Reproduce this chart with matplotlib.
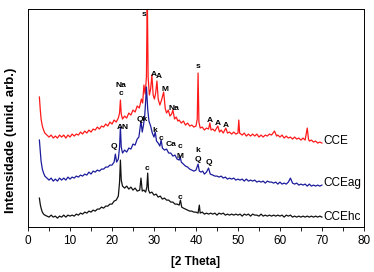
"""
XRD patterns of CCE, CCEag and CCEhc (stacked, arbitrary intensity units).
"""

import matplotlib
matplotlib.use("Agg")
import matplotlib.pyplot as plt
from matplotlib.ticker import MultipleLocator

plt.rcParams["font.family"] = ["Liberation Sans", "DejaVu Sans"]

# =============================================================================
# DATA  (2 theta in degrees, intensity already offset for stacking)
# =============================================================================

cce_x = [2.7, 2.9, 3.1, 3.4, 3.7, 4.0, 4.5, 5.0, 5.5, 6.0, 6.5, 7.0, 7.5, 8.0,
         8.5, 9.0, 9.5, 10.0, 10.5, 11.0, 11.5, 12.0, 12.5, 13.0, 13.5, 14.0,
         14.5, 15.0, 15.5, 16.0, 16.5, 17.0, 17.5, 18.0, 18.5, 19.0, 19.5,
         20.0, 20.5, 21.0, 21.5, 21.8, 22.0, 22.2, 22.5, 23.0, 23.5, 24.0,
         24.5, 25.0, 25.5, 26.0, 26.5, 27.0, 27.3, 27.6, 27.9, 28.2, 28.4,
         28.6, 28.9, 29.2, 29.5, 29.8, 30.1, 30.4, 30.7, 31.0, 31.4, 31.8,
         32.3, 32.7, 33.0, 33.4, 33.8, 34.2, 34.5, 34.9, 35.3, 35.7, 36.0,
         36.5, 37.0, 37.5, 38.0, 38.5, 39.0, 39.5, 40.0, 40.3, 40.5, 40.7,
         41.0, 41.5, 42.0, 42.5, 43.0, 43.3, 43.6, 44.0, 44.5, 45.2, 45.6,
         46.0, 46.5, 47.1, 47.5, 48.0, 48.5, 49.0, 49.5, 50.0, 50.2, 50.4,
         51.0, 51.5, 52.0, 52.5, 53.0, 53.5, 54.0, 54.5, 55.0, 55.5, 56.0,
         56.5, 57.0, 57.5, 58.0, 58.7, 59.2, 59.5, 60.0, 60.5, 61.0, 61.5,
         62.0, 62.5, 63.0, 63.5, 64.0, 64.5, 65.0, 65.5, 66.0, 66.5, 66.8,
         67.0, 67.5, 68.0, 68.5, 69.0, 69.5, 70.0]
cce_y = [130, 118, 108, 101, 97, 94, 92, 90, 92, 89, 91, 89, 92, 90,
         92, 89, 92, 90, 93, 91, 93, 92, 95, 93, 96, 94,
         97, 95, 98, 97, 100, 98, 101, 100, 103, 101, 105,
         103, 107, 105, 109, 114, 127, 113, 108, 111, 109, 114,
         112, 117, 115, 121, 119, 128, 124, 142, 133, 150, 235,
         150, 132, 138, 152, 132, 128, 134, 146, 128, 122, 127,
         135, 118, 114, 117, 111, 113, 117, 108, 110, 106, 107,
         104, 106, 102, 104, 101, 102, 100, 101, 108, 154, 105,
         99, 100, 97, 99, 98, 104, 97, 98, 96, 101, 95,
         97, 94, 99, 94, 95, 93, 95, 93, 94, 107, 94,
         92, 94, 91, 93, 91, 93, 91, 93, 90, 92, 90,
         92, 91, 93, 92, 96, 91, 92, 90, 92, 89, 91,
         89, 90, 88, 90, 88, 89, 87, 89, 87, 99, 88,
         86, 87, 85, 86, 84, 85, 84]

ccea_x = [2.7, 2.9, 3.1, 3.4, 3.7, 4.0, 4.5, 5.0, 5.5, 6.0, 6.5, 7.0, 7.5,
          8.0, 8.5, 9.0, 9.5, 10.0, 10.5, 11.0, 11.5, 12.0, 12.5, 13.0, 13.5,
          14.0, 14.5, 15.0, 15.5, 16.0, 16.5, 17.0, 17.5, 18.0, 18.5, 19.0,
          19.5, 20.0, 20.5, 20.8, 21.1, 21.5, 21.8, 22.0, 22.2, 22.5, 23.0,
          23.5, 24.0, 24.5, 25.0, 25.5, 26.0, 26.4, 26.9, 27.2, 27.5, 27.8,
          28.0, 28.2, 28.5, 28.8, 29.2, 29.6, 30.0, 30.3, 30.6, 31.0, 31.4,
          31.7, 32.0, 32.5, 33.0, 33.5, 34.0, 34.5, 35.0, 35.5, 36.0, 36.2,
          36.5, 37.0, 37.5, 38.0, 38.5, 39.0, 39.5, 40.0, 40.5, 40.8, 41.2,
          41.6, 42.0, 42.5, 43.0, 43.4, 44.0, 44.5, 45.0, 45.5, 46.0, 46.5,
          47.0, 47.5, 48.0, 48.5, 49.0, 49.5, 50.0, 50.5, 51.0, 51.5, 52.0,
          52.5, 53.0, 53.5, 54.0, 54.5, 55.0, 55.5, 56.0, 56.5, 57.0, 57.5,
          58.0, 58.5, 59.0, 59.5, 60.0, 60.5, 61.0, 61.5, 62.0, 62.5, 63.0,
          63.5, 64.0, 64.5, 65.0, 65.5, 66.0, 66.5, 67.0, 67.5, 68.0, 68.5,
          69.0, 69.5, 70.0]
ccea_y = [87, 76, 66, 58, 54, 51, 49, 47, 49, 46, 48, 46, 49,
          47, 49, 47, 50, 48, 50, 49, 51, 50, 52, 51, 53,
          52, 55, 53, 56, 55, 57, 56, 58, 58, 60, 60,
          62, 62, 65, 73, 65, 68, 80, 100, 80, 74, 77,
          75, 79, 78, 83, 82, 88, 90, 106, 95, 102, 112,
          125, 140, 118, 106, 101, 94, 90, 95, 86, 84, 81,
          87, 79, 77, 78, 74, 74, 71, 72, 68, 67, 71,
          65, 63, 61, 60, 58, 57, 56, 57, 63, 56, 55,
          56, 53, 55, 59, 53, 52, 51, 51, 50, 51, 49,
          50, 48, 49, 48, 49, 47, 48, 47, 48, 46, 48,
          46, 47, 46, 47, 45, 46, 45, 46, 44, 46, 45,
          45, 44, 45, 43, 45, 43, 44, 43, 45, 49, 44,
          43, 44, 42, 43, 42, 43, 41, 43, 41, 42, 41,
          42, 41, 42]

cceh_x = [2.7, 2.9, 3.1, 3.4, 3.7, 4.0, 4.5, 5.0, 5.5, 6.0, 6.5, 7.0, 7.5,
          8.0, 8.5, 9.0, 9.5, 10.0, 10.5, 11.0, 11.5, 12.0, 12.5, 13.0, 13.5,
          14.0, 14.5, 15.0, 15.5, 16.0, 16.5, 17.0, 17.5, 18.0, 18.5, 19.0,
          19.5, 20.0, 20.5, 21.0, 21.5, 21.8, 22.0, 22.2, 22.5, 23.0, 23.5,
          24.0, 24.5, 25.0, 25.5, 26.0, 26.6, 26.9, 27.2, 27.6, 28.0, 28.3,
          28.5, 28.7, 29.0, 29.5, 30.0, 30.5, 31.0, 31.5, 32.0, 32.5, 33.0,
          33.5, 34.0, 34.5, 35.0, 35.5, 36.0, 36.3, 36.6, 37.0, 37.5, 38.0,
          38.5, 39.0, 39.5, 40.0, 40.5, 40.8, 41.0, 41.5, 42.0, 42.5, 43.0,
          43.5, 44.0, 44.5, 45.0, 45.5, 46.0, 46.5, 47.0, 47.5, 48.0, 48.5,
          49.0, 49.5, 50.0, 50.5, 51.0, 51.5, 52.0, 52.5, 53.0, 53.5, 54.0,
          54.5, 55.0, 55.5, 56.0, 56.5, 57.0, 57.5, 58.0, 58.5, 59.0, 59.5,
          60.0, 60.5, 61.0, 61.5, 62.0, 62.5, 63.0, 63.5, 64.0, 64.5, 65.0,
          65.5, 66.0, 66.5, 67.0, 67.5, 68.0, 68.5, 69.0, 69.5, 70.0]
cceh_y = [29, 23, 19, 15, 13, 12, 11, 10, 12, 10, 11, 9, 11,
          10, 12, 10, 12, 11, 12, 11, 13, 12, 14, 13, 15,
          14, 16, 15, 17, 16, 18, 18, 20, 19, 21, 21,
          23, 23, 26, 27, 31, 45, 67, 47, 41, 39, 41,
          38, 40, 37, 39, 36, 37, 49, 36, 37, 35, 40,
          54, 37, 34, 35, 32, 33, 30, 31, 28, 29, 27,
          27, 25, 25, 23, 23, 22, 27, 20, 19, 18, 17,
          16, 16, 15, 15, 14, 22, 14, 15, 13, 14, 13,
          14, 13, 14, 12, 14, 13, 14, 12, 13, 12, 13,
          12, 13, 12, 13, 11, 13, 12, 13, 11, 13, 12,
          12, 11, 13, 11, 12, 11, 12, 11, 12, 11, 12,
          11, 12, 10, 12, 11, 12, 10, 11, 10, 11, 10,
          11, 10, 11, 10, 11, 10, 11, 10, 11, 10]

series_names = ["CCE", "CCEag", "CCEhc"]
series_label_y = [86, 44, 10]

# phase labels: (text, 2theta, height)
cce_marks = [("Na", 22.1, 142), ("c", 22.1, 134), ("s", 27.6, 212),
             ("A", 30.0, 153), ("A", 31.2, 151), ("M", 32.6, 138),
             ("Na", 34.8, 119), ("s", 40.5, 161), ("A", 43.3, 107),
             ("A", 45.2, 104), ("A", 47.1, 102)]
ccea_marks = [("Q", 20.5, 81), ("AN", 22.6, 100), ("Qk", 27.1, 108),
              ("k", 30.2, 97), ("c", 31.7, 89), ("Ca", 34.0, 83),
              ("c", 36.2, 81), ("M", 36.2, 71), ("k", 40.5, 77),
              ("Q", 40.5, 68), ("Q", 43.1, 65)]
cceh_marks = [("c", 28.3, 59), ("c", 36.2, 30)]

# =============================================================================
# FIGURE
# =============================================================================

fig = plt.figure(figsize=(3.74, 2.72), dpi=100)
ax = fig.add_axes([0.075, 0.165, 0.898, 0.802])

ax.plot(cce_x, cce_y, color="#ff1a1a", linewidth=0.9)
ax.plot(ccea_x, ccea_y, color="#1c1c9c", linewidth=0.9)
ax.plot(cceh_x, cceh_y, color="#111111", linewidth=0.9)

for marks in (cce_marks, ccea_marks, cceh_marks):
    for txt, x, y in marks:
        ax.text(x, y, txt, fontsize=6, fontweight="bold",
                ha="center", va="center")

for name, y in zip(series_names, series_label_y):
    ax.text(70.4, y, name, fontsize=8.5, ha="left", va="center")

ax.set_xlim(0, 80)
ax.set_ylim(0, 218)
ax.xaxis.set_major_locator(MultipleLocator(10))
ax.xaxis.set_minor_locator(MultipleLocator(5))
ax.tick_params(axis="x", which="both", direction="out", length=3,
               width=0.6, labelsize=8.5, pad=3)
ax.set_yticks([])
for sp in ax.spines.values():
    sp.set_linewidth(0.7)

ax.set_xlabel("[2 Theta]", fontsize=8.5, fontweight="bold", labelpad=6)
ax.set_ylabel("Intensidade (unid. arb.)", fontsize=9.5, fontweight="bold")
ax.yaxis.set_label_coords(-0.032, 0.40)

fig.savefig("out.png", dpi=100)
